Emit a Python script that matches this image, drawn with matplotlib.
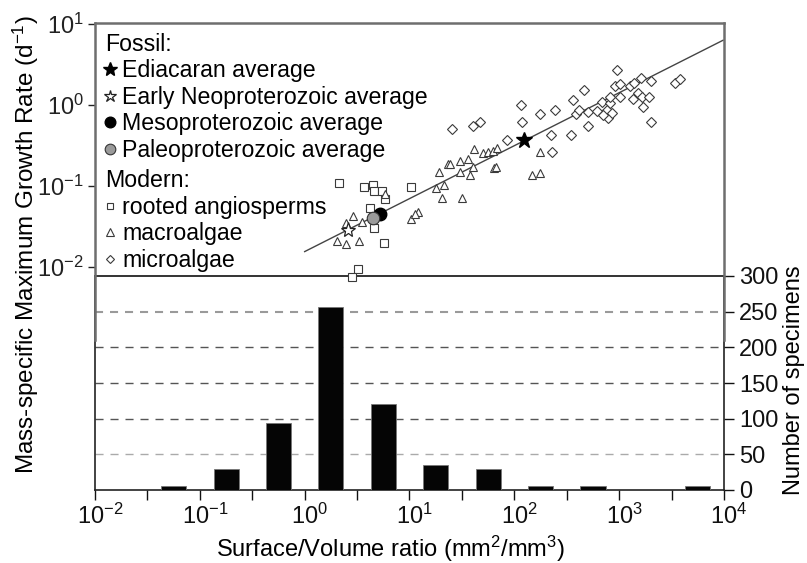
import matplotlib
matplotlib.use('Agg')
import matplotlib.pyplot as plt
import matplotlib.transforms as mtransforms
import numpy as np
from matplotlib.ticker import FixedLocator, NullFormatter, LogFormatterSciNotation

plt.rcParams['font.family'] = ['Liberation Sans', 'DejaVu Sans']
plt.rcParams['mathtext.fontset'] = 'custom'
plt.rcParams['mathtext.rm'] = 'Liberation Sans'
plt.rcParams['mathtext.it'] = 'Liberation Sans:italic'
plt.rcParams['mathtext.bf'] = 'Liberation Sans:bold'
plt.rcParams['axes.unicode_minus'] = False

# ---------------- data ----------------
# Modern: rooted angiosperms (surface/volume ratio, growth rate)
angio_sv = [2.14, 3.69, 4.53, 4.59, 5.44, 5.85, 10.35, 4.21, 4.62, 5.69, 3.21, 2.81]
angio_gr = [0.108, 0.0964, 0.1028, 0.0867, 0.0867, 0.0684, 0.0964, 0.0530, 0.0306, 0.0200, 0.00944, 0.00759]

# Modern: macroalgae
macro_sv = [2.47, 2.92, 3.51, 2.02, 2.48, 3.28, 5.85, 10.3, 12.0, 11.3, 17.9, 21.4, 20.3, 32.0,
            19.3, 23.2, 24.4, 30.4, 36.2, 30.4, 37.8, 40.2, 41.0, 50.7, 56.6, 62.4, 68.1, 64.1,
            67.0, 176, 149, 176]
macro_gr = [0.0346, 0.0431, 0.0363, 0.0211, 0.0192, 0.0209, 0.0796, 0.0392, 0.0482, 0.0447, 0.0953,
            0.1028, 0.0705, 0.0705, 0.148, 0.187, 0.187, 0.206, 0.215, 0.150, 0.137, 0.170, 0.284,
            0.253, 0.265, 0.270, 0.297, 0.165, 0.173, 0.265, 0.137, 0.146]

# Modern: microalgae
micro_sv = [25.4, 40.2, 47.2, 84.7, 116, 118, 174, 245, 223, 231, 348, 366, 457, 389, 418, 499,
            509, 612, 684, 764, 791, 820, 820, 851, 951, 916, 1023, 1023, 1274, 1371, 1611, 1352,
            1528, 1648, 1905, 2018, 1706, 2018, 3373, 3767, 708]
micro_gr = [0.501, 0.551, 0.622, 0.370, 1.0, 0.622, 0.767, 0.867, 0.427, 0.261, 0.427, 1.153,
            1.531, 0.767, 0.867, 0.551, 0.828, 0.843, 1.099, 0.867, 0.684, 1.049, 1.268, 0.789,
            2.70, 1.718, 1.816, 1.268, 1.718, 1.854, 2.138, 1.175, 1.393, 1.268, 1.268, 1.977,
            0.935, 0.622, 1.854, 2.094, 0.753]

# Fossil averages
ediacaran = (125, 0.370)
early_neo = (2.58, 0.0286)
meso = (5.24, 0.0447)
paleo = (4.47, 0.0406)

# regression line end points
fit_sv = [1.0, 9800]
fit_gr = [0.0155, 6.3]

# histogram of specimens (bin centres on S/V axis, counts)
hist_centres = [0.0562, 0.178, 0.562, 1.78, 5.62, 17.8, 56.2, 178, 562, 5623]
hist_counts = [5, 29, 94, 257, 120, 35, 29, 5, 5, 5]

decade_ticks = [1e-2, 1e-1, 1e0, 1e1, 1e2, 1e3, 1e4]
half_decade_ticks = [0.0316, 0.316, 3.16, 31.6, 316, 3162]
gr_ticks = [1e-2, 1e-1, 1e0, 1e1]
count_ticks = [0, 50, 100, 150, 200, 250, 300]

# ---------------- figure ----------------
W, H = 807, 563
fig = plt.figure(figsize=(W / 100, H / 100), dpi=100)


def frac(l, t, r, b):
    return [l / W, 1 - b / H, (r - l) / W, (b - t) / H]


FS_TICK = 17
FS_LAB = 17
FS_LEG = 16.7
ax2 = fig.add_axes(frac(95, 276, 724, 490))
ax1 = fig.add_axes(frac(95, 23, 724, 340))
ax1.set_zorder(3)
ax1.patch.set_alpha(0)

# ---- histogram axes ----
ax2.set_xscale('log')
ax2.set_xlim(1e-2, 1e4)
ax2.set_ylim(0, 300)
hc = np.array(hist_centres)
half_w = 10 ** 0.12
ax2.bar(hc / half_w, hist_counts, width=hc * half_w - hc / half_w, align='edge',
        color='#050505', edgecolor='#777777', linewidth=0.6, zorder=3)
grid_style = {250: ('#9a9a9a', 1.5), 200: ('#555555', 1.0), 150: ('#555555', 1.0),
              100: ('#555555', 1.0), 50: ('#aaaaaa', 1.0)}
for lvl in count_ticks[1:-1]:
    c, lw = grid_style[lvl]
    ax2.axhline(lvl, color=c, lw=lw, dashes=(5.8 / lw, 5.0 / lw), zorder=1)
for s in ax2.spines.values():
    s.set_color('#222222')
    s.set_linewidth(1.2)
ax2.spines['top'].set_color('#333333')
ax2.spines['top'].set_linewidth(1.4)
ax2.yaxis.tick_right()
ax2.set_yticks(count_ticks)
ax2.tick_params(axis='y', which='both', direction='out', length=7, width=1.0,
                labelsize=FS_TICK, pad=4, colors='#111111', left=False)
ax2.xaxis.set_major_locator(FixedLocator(decade_ticks))
ax2.xaxis.set_major_formatter(LogFormatterSciNotation())
ax2.xaxis.set_minor_locator(FixedLocator(half_decade_ticks))
ax2.xaxis.set_minor_formatter(NullFormatter())
ax2.tick_params(axis='x', which='both', direction='out', length=7, width=1.0,
                labelsize=FS_TICK, pad=3, colors='#111111')
shift = mtransforms.ScaledTranslation(5 / 100, 0, fig.dpi_scale_trans)
for lab in ax2.get_xticklabels():
    lab.set_transform(lab.get_transform() + shift)

fig.text(794 / W, 1 - 380 / H, 'Number of specimens', rotation=90, ha='center',
         va='center', fontsize=FS_LAB)
fig.text(390 / W, 1 - 549 / H, 'Surface/Volume ratio (mm$^{2}$/mm$^{3}$)', ha='center',
         va='center', fontsize=FS_LAB)
fig.text(26 / W, 1 - 245 / H, 'Mass-specific Maximum Growth Rate (d$^{-1}$)', rotation=90,
         ha='center', va='center', fontsize=17.5)

# ---- scatter axes ----
ax1.set_xscale('log')
ax1.set_yscale('log')
ax1.set_xlim(1e-2, 1e4)
ax1.set_ylim(10 ** -2.901, 10 ** 1.012)
ax1.xaxis.set_major_locator(FixedLocator([]))
ax1.xaxis.set_minor_locator(FixedLocator([]))
ax1.yaxis.set_major_locator(FixedLocator(gr_ticks))
ax1.yaxis.set_major_formatter(LogFormatterSciNotation())
ax1.yaxis.set_minor_locator(FixedLocator([]))
ax1.tick_params(axis='y', direction='out', length=5, width=1.0, labelsize=FS_TICK, pad=3,
                colors='#222222')
for side in ['left', 'top', 'right']:
    ax1.spines[side].set_color('#6e6e6e')
    ax1.spines[side].set_linewidth(1.8)
ax1.spines['bottom'].set_visible(False)

ax1.plot(fit_sv, fit_gr, color='#444444', lw=1.0, zorder=2)
open_kw = dict(linestyle='none', mfc='white', mec='#3a3a3a', mew=0.8, zorder=3)
h_angio, = ax1.plot(angio_sv, angio_gr, marker='s', ms=5.5, label='rooted angiosperms', **open_kw)
h_macro, = ax1.plot(macro_sv, macro_gr, marker='^', ms=6, label='macroalgae', **open_kw)
h_micro, = ax1.plot(micro_sv, micro_gr, marker='D', ms=4.6, label='microalgae', **open_kw)

h_edi, = ax1.plot(*ediacaran, linestyle='none', marker='*', ms=12, mfc='black', mec='black',
                  zorder=5, label='Ediacaran average')
h_neo, = ax1.plot(*early_neo, linestyle='none', marker='*', ms=11, mfc='white', mec='#222222',
                  mew=0.9, zorder=5, label='Early Neoproterozoic average')
h_meso, = ax1.plot(*meso, linestyle='none', marker='o', ms=9, mfc='black', mec='black',
                   zorder=5, label='Mesoproterozoic average')
h_paleo, = ax1.plot(*paleo, linestyle='none', marker='o', ms=9, mfc='#9a9a9a', mec='#333333',
                    mew=0.8, zorder=5, label='Paleoproterozoic average')

leg_kw = dict(frameon=False, fontsize=FS_LEG, title_fontsize=FS_LEG, loc='upper left',
              handlelength=0.45, handletextpad=0.3, labelspacing=0.15, borderpad=0,
              borderaxespad=0, alignment='left', markerscale=0.85)
leg1 = ax1.legend(handles=[h_edi, h_neo, h_meso, h_paleo], title='Fossil:',
                  bbox_to_anchor=(0.016, 0.969), **leg_kw)
ax1.add_artist(leg1)
leg2 = ax1.legend(handles=[h_angio, h_macro, h_micro], title='Modern:',
                  bbox_to_anchor=(0.016, 0.538), **leg_kw)

fig.savefig('out.png', dpi=100)
